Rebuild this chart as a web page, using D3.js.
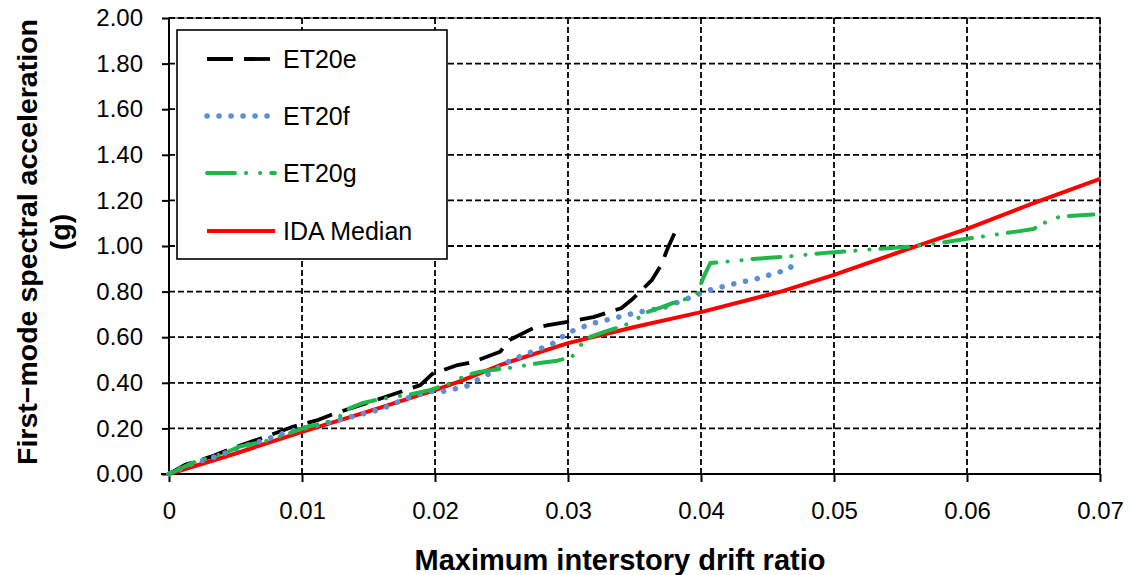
<!DOCTYPE html>
<html>
<head>
<meta charset="utf-8">
<script src="https://cdn.jsdelivr.net/npm/d3@7"></script>
<style>
  html, body { margin: 0; padding: 0; background: #fff; }
  svg { display: block; font-family: "Liberation Sans", Arial, sans-serif; }
</style>
</head>
<body>
<svg id="chart" width="1131" height="575"></svg>
<script>
// Record ET20e
const et20eDrift = [0, 0.0012, 0.0031, 0.0051, 0.0061, 0.0081, 0.0093, 0.0111, 0.0123, 0.0156, 0.0189, 0.0198, 0.0217, 0.0228, 0.0249, 0.0256, 0.0274, 0.0285, 0.0307, 0.0319, 0.034, 0.0349, 0.0363, 0.037, 0.0375, 0.038];
const et20eSa    = [0, 0.04, 0.075, 0.12, 0.14, 0.181, 0.207, 0.235, 0.262, 0.325, 0.39, 0.439, 0.478, 0.49, 0.536, 0.588, 0.64, 0.653, 0.675, 0.688, 0.727, 0.77, 0.85, 0.917, 0.99, 1.055];

// Record ET20f
const et20fDrift = [0, 0.0018, 0.0035, 0.0052, 0.0068, 0.0087, 0.0105, 0.0123, 0.0141, 0.016, 0.0179, 0.0196, 0.0205, 0.0223, 0.0231, 0.0239, 0.0254, 0.027, 0.0288, 0.03, 0.0317, 0.0335, 0.0353, 0.0371, 0.0388, 0.0405, 0.0423, 0.0441, 0.0459, 0.0467, 0.047];
const et20fSa    = [0, 0.047, 0.076, 0.114, 0.142, 0.18, 0.207, 0.23, 0.256, 0.285, 0.333, 0.362, 0.361, 0.383, 0.41, 0.434, 0.49, 0.53, 0.57, 0.62, 0.658, 0.684, 0.71, 0.728, 0.765, 0.804, 0.832, 0.855, 0.886, 0.902, 0.934];

// Record ET20g
const et20gDrift = [0, 0.0018, 0.0042, 0.0053, 0.0076, 0.0104, 0.0121, 0.013, 0.0136, 0.0145, 0.0156, 0.0169, 0.0183, 0.0196, 0.021, 0.0224, 0.0234, 0.0256, 0.028, 0.0292, 0.0303, 0.0308, 0.0317, 0.0329, 0.034, 0.035, 0.0358, 0.0369, 0.0379, 0.0388, 0.0397, 0.0402, 0.0407, 0.0419, 0.0439, 0.0464, 0.0498, 0.0533, 0.0557, 0.0581, 0.0605, 0.0637, 0.065, 0.066, 0.067, 0.0695];
const et20gSa    = [0, 0.05, 0.092, 0.12, 0.149, 0.207, 0.23, 0.259, 0.289, 0.31, 0.325, 0.338, 0.351, 0.368, 0.395, 0.434, 0.449, 0.465, 0.488, 0.497, 0.514, 0.558, 0.602, 0.627, 0.646, 0.672, 0.707, 0.729, 0.75, 0.766, 0.79, 0.865, 0.925, 0.931, 0.943, 0.953, 0.972, 0.987, 0.997, 1.015, 1.036, 1.063, 1.075, 1.107, 1.129, 1.138];

// IDA median curve
const medianDrift = [0, 0.005, 0.01, 0.015, 0.02, 0.022, 0.025, 0.03, 0.035, 0.04, 0.046, 0.05, 0.055, 0.06, 0.065, 0.07];
const medianSa    = [0, 0.09, 0.185, 0.275, 0.368, 0.41, 0.48, 0.574, 0.645, 0.71, 0.80, 0.873, 0.975, 1.075, 1.188, 1.294];

const xTicks = [0, 0.01, 0.02, 0.03, 0.04, 0.05, 0.06, 0.07];
const xTickLabels = ["0", "0.01", "0.02", "0.03", "0.04", "0.05", "0.06", "0.07"];
const yTicks = [0, 0.2, 0.4, 0.6, 0.8, 1.0, 1.2, 1.4, 1.6, 1.8, 2.0];
const yTickLabels = ["0.00", "0.20", "0.40", "0.60", "0.80", "1.00", "1.20", "1.40", "1.60", "1.80", "2.00"];

const seriesNames = ["ET20e", "ET20f", "ET20g", "IDA Median"];

const svg = d3.select("#chart");
const plotLeft = 169, plotRight = 1100, plotTop = 18, plotBottom = 474;

const x = d3.scaleLinear().domain([0, 0.07]).range([plotLeft, plotRight]);
const y = d3.scaleLinear().domain([0, 2]).range([plotBottom, plotTop]);

// plot-area frame
svg.append("rect")
  .attr("x", plotLeft).attr("y", plotTop)
  .attr("width", plotRight - plotLeft).attr("height", plotBottom - plotTop)
  .attr("fill", "none").attr("stroke", "#8c8c8c").attr("stroke-width", 2);

// dashed grid
const grid = svg.append("g").attr("stroke", "#000").attr("stroke-width", 1.8).attr("stroke-dasharray", "6,3");
grid.selectAll("line.h").data(yTicks.slice(1)).join("line")
  .attr("class", "h")
  .attr("x1", plotLeft).attr("x2", plotRight)
  .attr("y1", d => y(d)).attr("y2", d => y(d));
grid.selectAll("line.v").data(xTicks.slice(1)).join("line")
  .attr("class", "v")
  .attr("y1", plotTop).attr("y2", plotBottom)
  .attr("x1", d => x(d)).attr("x2", d => x(d));

// axes
const xAxis = d3.axisBottom(x).tickValues(xTicks)
  .tickFormat((d, i) => xTickLabels[i]).tickSize(8).tickSizeOuter(0).tickPadding(20);
const yAxis = d3.axisLeft(y).tickValues(yTicks)
  .tickFormat((d, i) => yTickLabels[i]).tickSize(7).tickSizeOuter(0).tickPadding(19);

const gx = svg.append("g").attr("transform", `translate(0,${plotBottom})`).call(xAxis);
const gy = svg.append("g").attr("transform", `translate(${plotLeft},0)`).call(yAxis);
[gx, gy].forEach(g => {
  g.selectAll("path.domain").attr("stroke", "#000").attr("stroke-width", 2);
  g.selectAll(".tick line").attr("stroke", "#000").attr("stroke-width", 2);
  g.selectAll(".tick text").attr("font-size", 24).attr("fill", "#000")
    .attr("font-family", "'Liberation Sans', Arial, sans-serif");
});
gy.select("path.domain").attr("d", `M0,${plotBottom}V${plotTop}`);
gx.select("path.domain").attr("d", `M${plotLeft - 8},0H${plotRight}`);

// curves
const line = d3.line().x(d => x(d[0])).y(d => y(d[1]));
const zip = (a, b) => a.map((v, i) => [v, b[i]]);

const styles = [
  { data: zip(et20eDrift, et20eSa), color: "#000000", width: 3.8, dash: "26,11", cap: "butt" },
  { data: zip(et20fDrift, et20fSa), color: "#5b8fd8", width: 5.5, dash: "0.1,11.9", cap: "round" },
  { data: zip(et20gDrift, et20gSa), color: "#1fb64a", width: 4, dash: "28,11,0.1,14,0.1,11", cap: "round" },
  { data: zip(medianDrift, medianSa), color: "#ff0000", width: 4, dash: null, cap: "butt" }
];

const curves = svg.append("g");
// median first, records on top
[3, 0, 1, 2].forEach(i => {
  const s = styles[i];
  curves.append("path")
    .datum(s.data)
    .attr("d", line)
    .attr("fill", "none")
    .attr("stroke", s.color)
    .attr("stroke-width", s.width)
    .attr("stroke-linecap", s.cap)
    .attr("stroke-linejoin", "round")
    .attr("stroke-dasharray", s.dash);
});

// legend
const lg = svg.append("g");
lg.append("rect").attr("x", 177).attr("y", 30).attr("width", 270).attr("height", 229)
  .attr("fill", "#fff").attr("stroke", "#000").attr("stroke-width", 1.6);
const rowY = [59, 116, 173, 231];
seriesNames.forEach((name, i) => {
  const s = styles[i];
  lg.append("line")
    .attr("x1", 207).attr("x2", 275)
    .attr("y1", rowY[i]).attr("y2", rowY[i])
    .attr("stroke", s.color).attr("stroke-width", s.width)
    .attr("stroke-linecap", s.cap)
    .attr("stroke-dasharray", s.dash);
  lg.append("text").attr("x", 283).attr("y", rowY[i]).attr("dy", "0.36em")
    .attr("font-size", 25).attr("fill", "#000").text(name);
});

// axis titles
svg.append("text")
  .attr("x", 620).attr("y", 570)
  .attr("text-anchor", "middle").attr("font-size", 29).attr("font-weight", "bold")
  .text("Maximum interstory drift ratio");

const yt = svg.append("text")
  .attr("transform", "translate(0,242) rotate(-90)")
  .attr("text-anchor", "middle").attr("font-size", 28.5).attr("font-weight", "bold");
yt.append("tspan").attr("x", 0).attr("y", 37).text("First\u2212mode spectral acceleration");
yt.append("tspan").attr("x", 10).attr("y", 70).text("(g)");
</script>
</body>
</html>
